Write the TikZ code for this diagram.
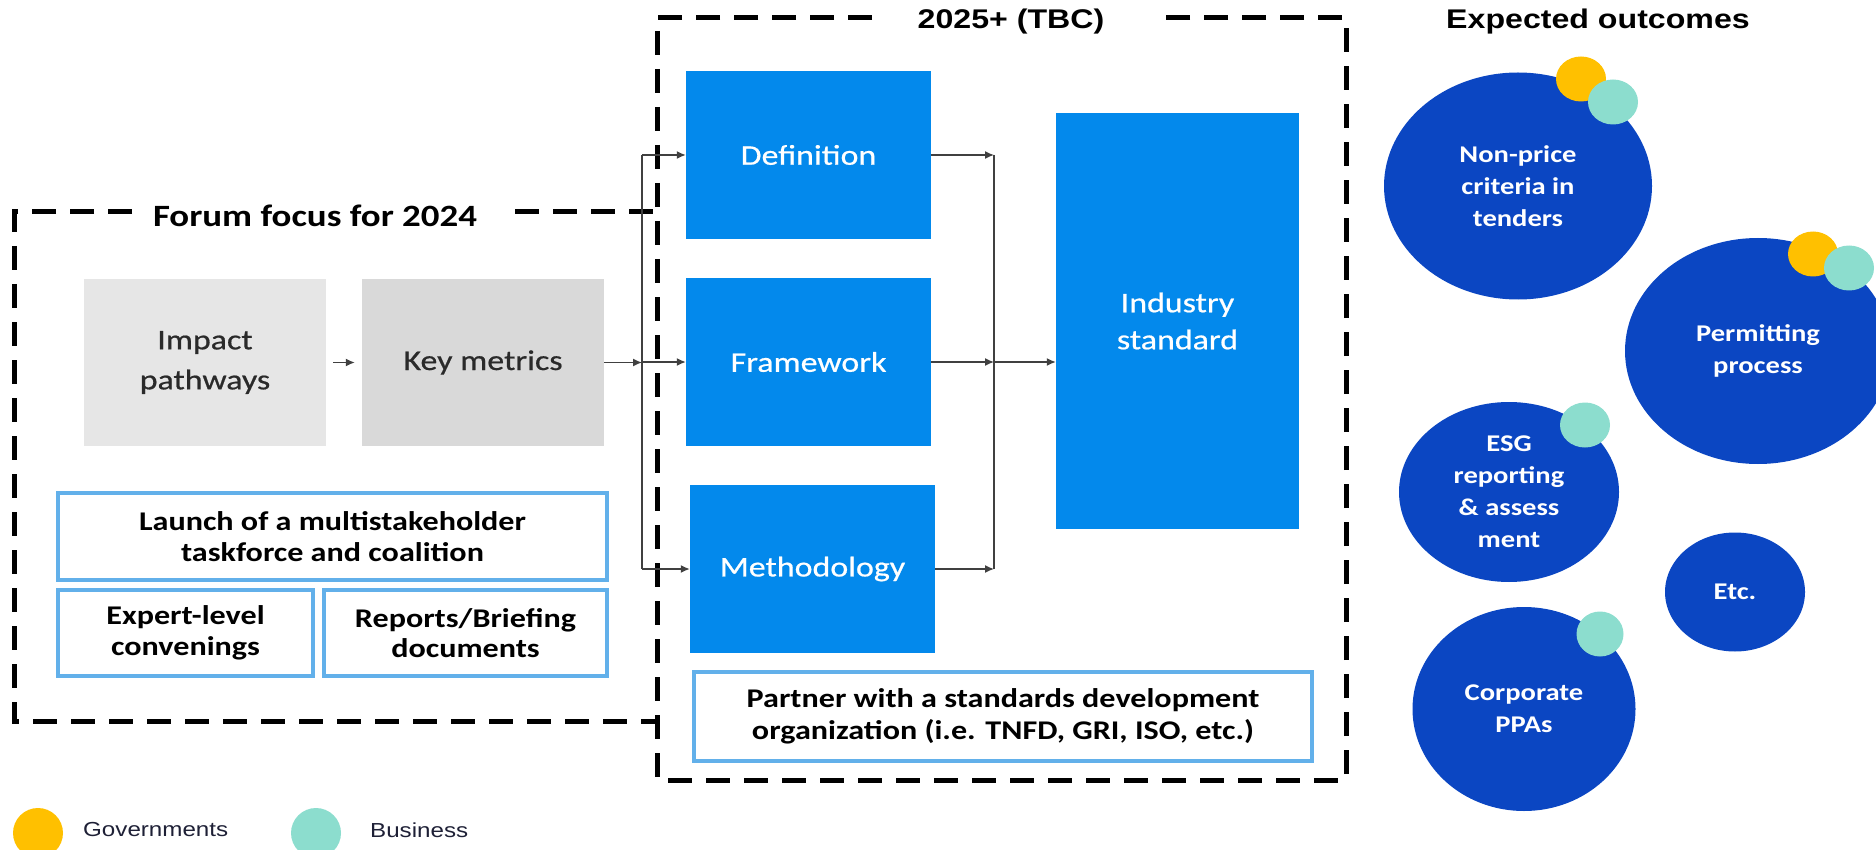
\documentclass[tikz,border=0pt]{standalone}
\usepackage{fontspec}
\usetikzlibrary{arrows.meta,shapes.geometric}
\newfontfamily\calf[FakeStretch=1.19]{Carlito}
\newfontfamily\calm[FakeStretch=1.19,FakeBold=0.6]{Carlito}
\newfontfamily\arif[FakeStretch=1.19]{Liberation Sans}
\definecolor{boxblue}{HTML}{0389EC}
\definecolor{circblue}{HTML}{0B46C2}
\definecolor{edgeblue}{HTML}{62B0EA}
\definecolor{gov}{HTML}{FFC000}
\definecolor{biz}{HTML}{8CDDCE}
\definecolor{grayA}{HTML}{E6E6E6}
\definecolor{grayB}{HTML}{D9D9D9}
\definecolor{txtgray}{HTML}{2A2A2A}
\definecolor{arrgray}{HTML}{404040}
\definecolor{legtxt}{HTML}{1E2036}
\begin{document}
\begin{tikzpicture}[x=1pt,y=-1pt,
  graybox/.style={minimum width=242pt,minimum height=167pt,inner sep=0pt,align=center,text=txtgray,font=\calm\fontsize{28.5}{40}\selectfont},
  bluebox/.style={fill=boxblue,minimum width=245pt,minimum height=168pt,inner sep=0pt,align=center,text=white,font=\calm\fontsize{28.5}{37}\selectfont},
  taskbox/.style={draw=edgeblue,line width=4pt,fill=white,inner sep=0pt,align=center,text=black,font=\calf\bfseries\fontsize{27}{30.5}\selectfont},
  outcome/.style={ellipse,fill=circblue,inner sep=0pt,align=center,text=white,font=\calf\bfseries\fontsize{24}{32}\selectfont},
  govdot/.style={ellipse,fill=gov,minimum width=50pt,minimum height=45pt,inner sep=0pt},
  bizdot/.style={ellipse,fill=biz,minimum width=50pt,minimum height=45pt,inner sep=0pt},
  arr/.style={draw=arrgray,line width=1.4pt,-{Latex[length=9pt,width=8pt]}},
  busline/.style={draw=arrgray,line width=1.4pt},
  dashbox/.style={draw=black,line width=5pt,dash pattern=on 24pt off 14pt},
  titletext/.style={inner sep=0pt,font=\arif\bfseries\fontsize{27}{30}\selectfont},
  legendtext/.style={inner sep=0pt,anchor=west,text=legtxt,font=\arif\fontsize{20.3}{24}\selectfont}
]
\useasboundingbox (0,0) rectangle (1876,850);

% dashed frames
\draw[dashbox] (515,212) -- (657,212);
\draw[dashbox] (132,212) -- (14,212) -- (14,721) -- (657,721);
\draw[dashbox] (872,18) -- (657,18) -- (657,780) -- (1346,780) -- (1346,18) -- (1163,18);

% titles
\node[titletext,font=\calf\bfseries\fontsize{31}{34}\selectfont] (t1) at (315,216) {Forum focus for 2024};
\node[titletext] (t2) at (1011,22) {2025+ (TBC)};
\node[titletext] (t3) at (1598,22) {Expected outcomes};

% left block
\node[graybox,fill=grayA] (imp) at (205,362.5) {Impact\\pathways};
\node[graybox,fill=grayB] (km) at (483,362.5) {Key metrics};
\node[taskbox,minimum width=549pt,minimum height=87pt] (launch) at (332.5,536.5) {Launch of a multistakeholder\\taskforce and coalition};
\node[taskbox,minimum width=255pt,minimum height=86pt] (expert) at (185.5,633) {Expert-level\\convenings};
\node[taskbox,minimum width=283pt,minimum height=86pt] (reports) at (465.5,633) {Reports/Briefing\\documents};

% middle block
\node[bluebox] (def) at (808.5,155) {Definition};
\node[bluebox] (fw) at (808.5,362) {Framework};
\node[bluebox] (meth) at (812.5,569) {Methodology};
\node[bluebox,minimum width=243pt,minimum height=416pt] (ind) at (1177.5,321) {Industry\\standard};
\node[taskbox,minimum width=618pt,minimum height=89pt,font=\calf\bfseries\fontsize{27}{32}\selectfont] (partner) at (1003,716.5) {Partner with a standards development\\organization (i.e. TNFD, GRI, ISO, etc.)};

% connectors
\coordinate (bl) at (642,0);
\coordinate (br) at (994,0);
\draw[arr] ([xshift=7pt]imp.east) -- ([xshift=-7pt]km.west);
\draw[arr] (km.east) -- (bl |- km.east);
\draw[busline] (bl |- def.west) -- (bl |- meth.west);
\draw[arr] (bl |- def.west) -- (def.west);
\draw[arr] (bl |- fw.west) -- (fw.west);
\draw[arr] (bl |- meth.west) -- (meth.west);
\draw[arr] (def.east) -- (br |- def.east);
\draw[arr] (fw.east) -- (br |- fw.east);
\draw[arr] (meth.east) -- (br |- meth.east);
\draw[busline] (br |- def.east) -- (br |- meth.east);
\draw[arr] (br |- fw.east) -- (ind.west |- fw.east);

% outcomes
\node[outcome,minimum width=268pt,minimum height=227pt] (o1) at (1518,186) {Non-price\\criteria in\\tenders};
\node[outcome,minimum width=266pt,minimum height=226pt] (o2) at (1758,351) {Permitting\\process};
\node[outcome,minimum width=220pt,minimum height=180pt] (o3) at (1509,492) {ESG\\reporting\\\& assess\\ment};
\node[outcome,minimum width=140pt,minimum height=119pt] (o4) at (1735,592) {Etc.};
\node[outcome,minimum width=223pt,minimum height=204pt] (o5) at (1524,709) {Corporate\\PPAs};
\node[govdot] (g1) at (1581,79) {};
\node[bizdot] (b1) at (1613,102) {};
\node[govdot] (g2) at (1813,254) {};
\node[bizdot] (b2) at (1849,268) {};
\node[bizdot] (b3) at (1585,425) {};
\node[bizdot,minimum width=47pt] (b5) at (1600,634) {};

% legend
\node[govdot,minimum height=50pt] (lg) at (38,833) {};
\node[legendtext] (lgt) at (83,830) {Governments};
\node[bizdot,minimum height=50pt] (lb) at (316,833) {};
\node[legendtext] (lbt) at (370,830) {Business};
\end{tikzpicture}
\end{document}
